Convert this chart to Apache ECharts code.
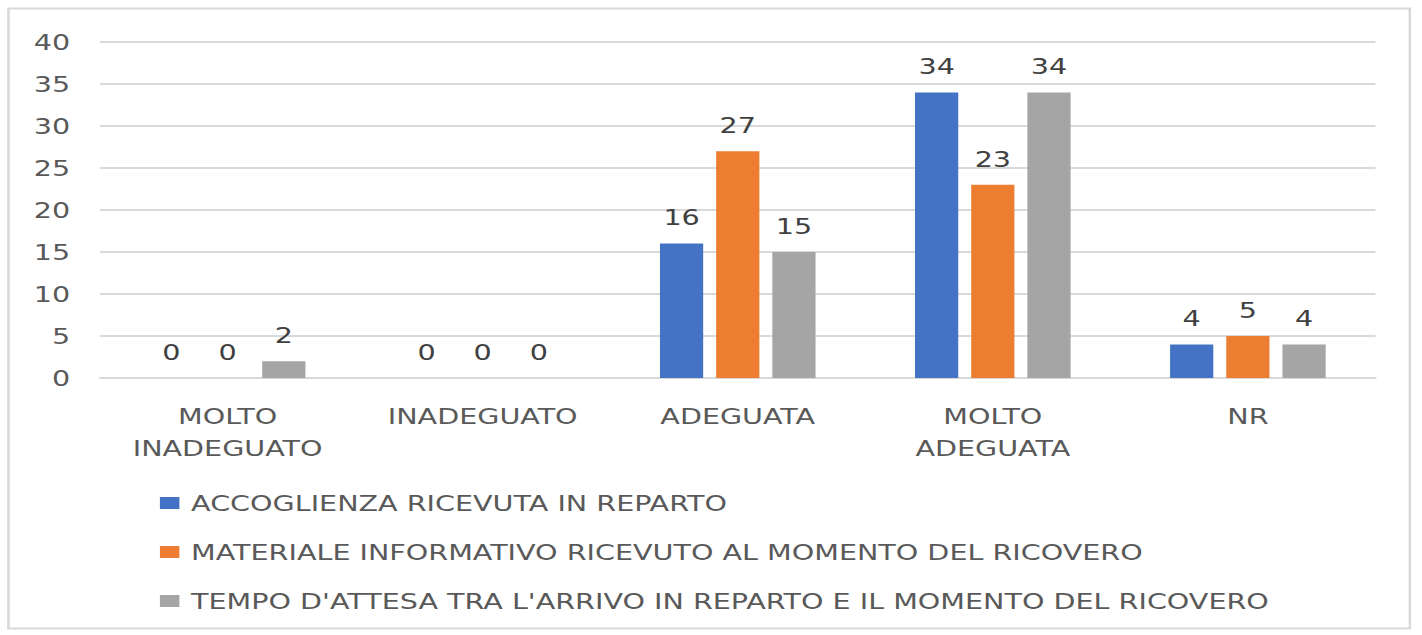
<!DOCTYPE html>
<html><head><meta charset="utf-8">
<script src="https://cdn.jsdelivr.net/npm/echarts@6/dist/echarts.min.js"></script>
<style>html,body{margin:0;padding:0;background:#fff;overflow:hidden;}#c{width:1094px;height:635px;transform:scaleX(1.3);transform-origin:0 0;}</style>
</head><body><div id="c"></div>
<script>
const categories = ['MOLTO\nINADEGUATO', 'INADEGUATO', 'ADEGUATA', 'MOLTO\nADEGUATA', 'NR'];
const seriesNames = [
  'ACCOGLIENZA RICEVUTA IN REPARTO',
  'MATERIALE INFORMATIVO RICEVUTO AL MOMENTO DEL RICOVERO',
  "TEMPO D'ATTESA TRA L'ARRIVO IN REPARTO E IL MOMENTO DEL RICOVERO"
];
const accoglienza = [0, 0, 16, 34, 4];
const materiale = [0, 0, 27, 23, 5];
const tempo = [2, 0, 15, 34, 4];
const colors = ['#4472C4', '#ED7D31', '#A5A5A5'];
const FONT = 'DejaVu Sans';

const chart = echarts.init(document.getElementById('c'), null, {renderer: 'svg'});
const mk = (name, data, color) => ({
  name, type: 'bar', data,
  barGap: '30%', barCategoryGap: '39%',
  itemStyle: {color},
  label: {show: true, position: 'top', distance: 15, color: '#404040', fontSize: 22, fontFamily: FONT}
});
chart.setOption({
  animation: false,
  graphic: [{type: 'rect', shape: {x: 6.5, y: 8.5, width: 1078, height: 620}, style: {fill: 'none', stroke: '#d9d9d9', lineWidth: 2}, silent: true}],
  grid: {left: 77, right: 36, top: 42, bottom: 257},
  legend: {
    orient: 'vertical', left: 118, top: 487, itemGap: 27, itemWidth: 15, itemHeight: 12,
    icon: 'rect',
    textStyle: {color: '#595959', fontSize: 22, fontFamily: FONT, padding: [0, 0, 0, 4]}
  },
  xAxis: {
    type: 'category', data: categories,
    axisLine: {lineStyle: {color: '#d9d9d9', width: 2}},
    axisTick: {show: false},
    axisLabel: {color: '#595959', fontSize: 22, fontFamily: FONT, margin: 22, lineHeight: 32, interval: 0}
  },
  yAxis: {
    type: 'value', min: 0, max: 40, interval: 5,
    axisLine: {show: false}, axisTick: {show: false},
    splitLine: {lineStyle: {color: '#d9d9d9', width: 2}},
    axisLabel: {color: '#595959', fontSize: 22, fontFamily: FONT, margin: 23}
  },
  series: [
    mk(seriesNames[0], accoglienza, colors[0]),
    mk(seriesNames[1], materiale, colors[1]),
    mk(seriesNames[2], tempo, colors[2])
  ]
});
</script></body></html>
